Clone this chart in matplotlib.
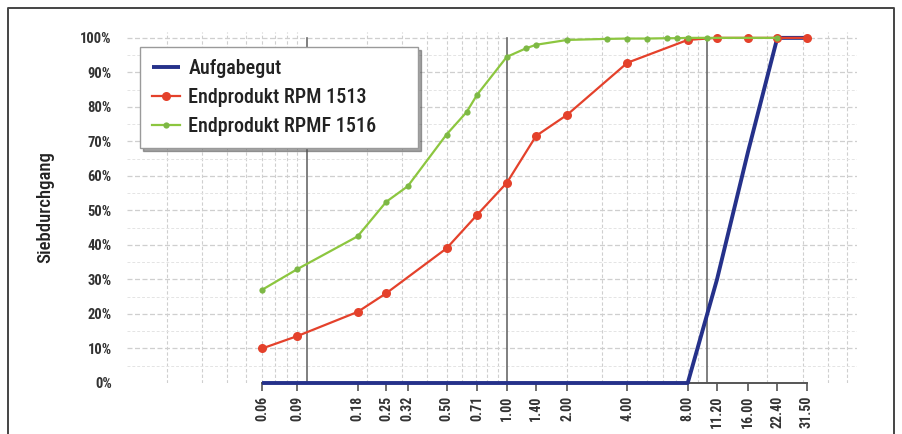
import matplotlib
matplotlib.use("Agg")
import matplotlib.pyplot as plt
from matplotlib.lines import Line2D
from matplotlib.ticker import FixedLocator, PercentFormatter, NullFormatter
from matplotlib import font_manager

# ---- Daten ----
sieb_ticks = [0.06, 0.09, 0.18, 0.25, 0.32, 0.50, 0.71, 1.00, 1.40, 2.00,
              4.00, 8.00, 11.20, 16.00, 22.40, 31.50]
tick_labels = ["0.06", "0.09", "0.18", "0.25", "0.32", "0.50", "0.71", "1.00",
               "1.40", "2.00", "4.00", "8.00", "11.20", "16.00", "22.40", "31.50"]

auf_x = [0.06, 0.09, 0.18, 0.25, 0.32, 0.50, 0.71, 1.00, 1.40, 2.00, 4.00,
         8.00, 11.20, 16.00, 22.40, 31.50]
auf_y = [0, 0, 0, 0, 0, 0, 0, 0, 0, 0, 0, 0, 0.30, 0.67, 1.00, 1.00]

rpm_x = [0.06, 0.09, 0.18, 0.25, 0.50, 0.71, 1.00, 1.40, 2.00, 4.00, 8.00,
         11.20, 16.00, 22.40, 31.50]
rpm_y = [0.10, 0.136, 0.206, 0.26, 0.39, 0.487, 0.58, 0.716, 0.777, 0.928,
         0.994, 1.00, 1.00, 1.00, 1.00]

rpmf_x = [0.06, 0.09, 0.18, 0.25, 0.32, 0.50, 0.63, 0.71, 1.00, 1.25, 1.40,
          2.00, 3.15, 4.00, 5.00, 6.30, 7.10, 8.00, 10.00, 22.40]
rpmf_y = [0.27, 0.33, 0.425, 0.525, 0.57, 0.72, 0.785, 0.835, 0.945, 0.97,
          0.98, 0.994, 0.997, 0.998, 0.998, 0.999, 0.999, 1.00, 1.00, 1.00]

# ---- Farben ----
C_AUF = "#25318a"
C_RPM = "#e4412b"
C_RPMF = "#8cc63f"
GRID = "#cfcfcf"

# schmale Schrift, falls vorhanden
_installed = {f.name for f in font_manager.fontManager.ttflist}
for _f in ["Liberation Sans Narrow", "DejaVu Sans Condensed", "Roboto Condensed",
           "Open Sans Condensed"]:
    if _f in _installed:
        plt.rcParams["font.family"] = [_f, "DejaVu Sans"]
        break
else:
    plt.rcParams["font.family"] = ["DejaVu Sans"]
plt.rcParams["font.stretch"] = "condensed"

fig = plt.figure(figsize=(9.02, 4.34), dpi=100)
ax = fig.add_axes([127 / 902, 1 - 383 / 434, 730 / 902, 351 / 434])

ax.set_xscale("log")
ax.set_xlim(0.0127, 56)
ax.set_ylim(0, 1.017)

# Gitter
minor = [m * 10.0 ** e for e in (-2, -1, 0, 1) for m in range(2, 10)]
for v in minor:
    ax.axvline(v, color=GRID, lw=0.8, ls=(0, (3, 2)), zorder=0)
for v in [0.05 + 0.1 * i for i in range(10)]:
    ax.axhline(v, color="#e4e4e4", lw=0.7, ls=(0, (3, 2)), zorder=0)
for v in [0.1 * i for i in range(1, 11)]:
    ax.axhline(v, color=GRID, lw=0.9, ls=(0, (4, 2)), zorder=0)
for v in (0.1, 1, 10):
    ax.plot([v, v], [0, 1.0], color="#6a6a6a", lw=1.2, zorder=1)

ax.plot(auf_x, auf_y, color=C_AUF, lw=2.8, label="Aufgabegut", zorder=3,
        solid_capstyle="butt", clip_on=False)
ax.plot(rpm_x, rpm_y, color=C_RPM, lw=1.6, marker="o", markersize=6.5,
        markeredgewidth=0, label="Endprodukt RPM 1513", zorder=4, clip_on=False)
ax.plot(rpmf_x, rpmf_y, color=C_RPMF, lw=1.6, marker="o", markersize=4.5,
        markerfacecolor="#7db845", markeredgewidth=0,
        label="Endprodukt RPMF 1516", zorder=5, clip_on=False)

for s in ["top", "right", "left"]:
    ax.spines[s].set_visible(False)
ax.spines["bottom"].set_bounds(0.06, 31.5)
ax.spines["bottom"].set_color("#555555")
ax.spines["bottom"].set_linewidth(1.4)

ax.xaxis.set_major_locator(FixedLocator(sieb_ticks))
ax.set_xticklabels(tick_labels, rotation=90, fontsize=10, fontweight="bold",
                   color="#333333")
ax.xaxis.set_minor_formatter(NullFormatter())
ax.tick_params(axis="x", which="minor", length=0)
ax.tick_params(axis="x", which="major", length=6, width=1.2, color="#555555",
               pad=3)

ax.set_yticks([0.1 * i for i in range(11)])
ax.yaxis.set_major_formatter(PercentFormatter(1.0, decimals=0))
ax.tick_params(axis="y", length=0, pad=11, labelsize=10.5, labelcolor="#333333")
for t in ax.get_yticklabels():
    t.set_fontweight("bold")

ax.set_ylabel("Siebdurchgang", fontsize=13.5, labelpad=19, color="#222222",
              fontweight="medium")

# Legende: Kasten 140..418 px breit, oben bei 47 px
leg_w = 278 / 730
leg_top = (383 - 47) / 351
leg = ax.legend(loc="upper left", bbox_to_anchor=(0.018, leg_top - 0.3, leg_w, 0.3),
                mode="expand", borderaxespad=0, fontsize=14.5, frameon=True,
                fancybox=False, shadow=True, handlelength=1.4, handletextpad=0.4,
                borderpad=0.6, labelspacing=0.5)
leg.get_frame().set_edgecolor("#9a9a9a")
leg.get_frame().set_linewidth(1.0)
for t in leg.get_texts():
    t.set_color("#222222")
    t.set_fontweight("medium")

# äußerer Rahmen
fig.add_artist(Line2D([8 / 902, 8 / 902, 894 / 902, 894 / 902],
                      [0, 1 - 8 / 434, 1 - 8 / 434, 0],
                      color="#444444", lw=1.4))

fig.savefig("out.png", dpi=100)
